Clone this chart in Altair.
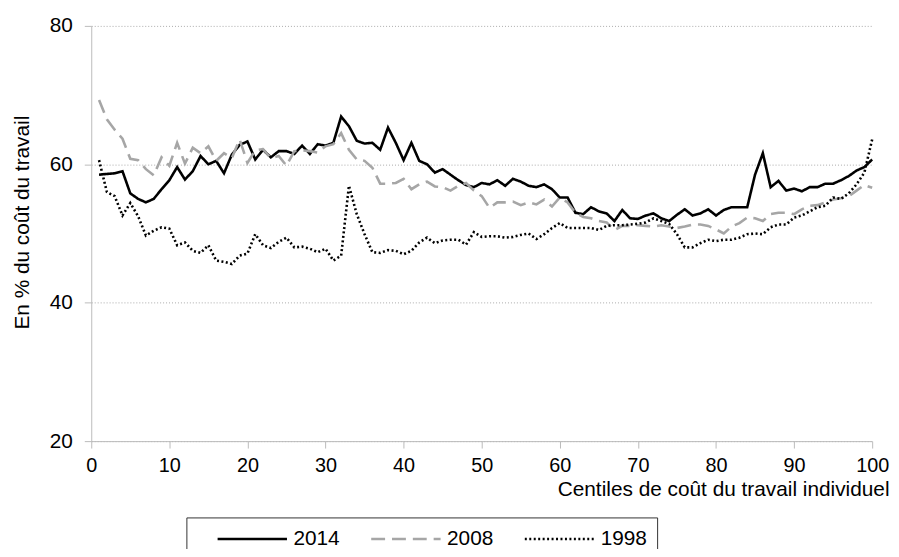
import altair as alt
import pandas as pd

centiles = list(range(1, 101))
years = ["2014", "2008", "1998"]

v2014 = [58.5, 58.6, 58.7, 59.0, 55.8, 55.0, 54.5, 55.0, 56.4, 57.7,
         59.6, 57.8, 59.0, 61.2, 60.0, 60.5, 58.7, 61.4, 62.8, 63.3,
         60.7, 62.1, 61.0, 61.9, 61.9, 61.5, 62.7, 61.5, 62.9, 62.7,
         63.1, 66.9, 65.5, 63.4, 63.0, 63.1, 62.1, 65.3, 63.1, 60.6,
         63.1, 60.5, 60.0, 58.8, 59.3, 58.5, 57.7, 57.0, 56.7, 57.3,
         57.1, 57.7, 56.9, 57.9, 57.5, 56.9, 56.7, 57.1, 56.4, 55.2,
         55.2, 53.0, 52.8, 53.8, 53.2, 52.9, 51.8, 53.4, 52.2, 52.1,
         52.6, 52.9, 52.2, 51.8, 52.7, 53.5, 52.6, 52.9, 53.5, 52.6,
         53.4, 53.8, 53.8, 53.8, 58.5, 61.6, 56.7, 57.6, 56.2, 56.5,
         56.1, 56.7, 56.7, 57.2, 57.2, 57.7, 58.3, 59.1, 59.6, 60.7]

v2008 = [69.3, 66.5, 65.0, 63.7, 60.8, 60.6, 59.3, 58.4, 61.0, 59.8,
         63.1, 60.1, 62.4, 61.6, 62.6, 60.5, 61.6, 60.9, 63.6, 60.2,
         62.0, 62.2, 60.9, 61.2, 59.8, 61.9, 62.0, 61.9, 61.7, 62.6,
         62.9, 64.5, 62.1, 60.7, 60.5, 59.5, 57.2, 57.2, 57.3, 57.9,
         56.4, 57.1, 57.5, 56.8, 56.7, 56.2, 56.9, 57.3, 56.2, 55.4,
         53.7, 54.5, 54.5, 54.6, 54.1, 54.5, 54.2, 54.9, 53.9, 55.2,
         54.5, 53.0, 52.4, 52.2, 51.8, 51.6, 50.5, 51.1, 51.1, 51.2,
         51.1, 51.0, 51.2, 51.0, 50.8, 51.0, 51.3, 51.3, 51.1, 50.6,
         50.0, 51.0, 51.5, 52.3, 52.2, 51.8, 52.8, 53.0, 53.0, 52.8,
         53.5, 54.0, 54.1, 54.5, 54.9, 55.1, 55.4, 56.2, 57.0, 56.6]

v1998 = [60.6, 56.0, 55.4, 52.6, 54.4, 52.5, 49.7, 50.4, 50.9, 50.7,
         48.3, 48.7, 47.5, 47.2, 48.3, 46.1, 45.9, 45.6, 46.8, 47.1,
         49.9, 48.3, 47.9, 48.8, 49.4, 48.0, 48.1, 47.8, 47.3, 47.8,
         46.1, 46.8, 56.9, 52.8, 49.9, 47.3, 47.2, 47.6, 47.5, 47.0,
         47.5, 48.7, 49.4, 48.6, 49.0, 49.1, 49.1, 48.4, 50.2, 49.5,
         49.6, 49.6, 49.4, 49.5, 49.8, 50.0, 49.2, 49.9, 50.8, 51.5,
         50.8, 50.8, 50.8, 50.8, 50.5, 51.1, 51.2, 51.2, 51.3, 51.4,
         51.6, 52.2, 51.8, 51.4, 49.9, 48.0, 48.0, 48.6, 49.1, 48.9,
         49.1, 49.1, 49.4, 49.9, 50.0, 49.9, 50.9, 51.3, 51.3, 52.3,
         52.6, 53.2, 53.8, 54.0, 55.2, 55.0, 55.8, 57.1, 58.8, 63.6]

x_ticks = list(range(0, 101, 10))
y_ticks = [20, 40, 60, 80]

rows = []
for yr, vals in zip(years, [v2014, v2008, v1998]):
    for c, v in zip(centiles, vals):
        rows.append({"centile": c, "value": v, "year": yr})
df = pd.DataFrame(rows)

FONT = "Liberation Sans"

color_scale = alt.Scale(domain=years, range=["#000000", "#a6a6a6", "#000000"])
dash_scale = alt.Scale(domain=years, range=[[1, 0], [14, 7], [2, 2.5]])

leg = alt.Legend(
    title="\u00a0", titleOrient="left", titlePadding=20, titleFontSize=21,
    orient="none", legendX=96, legendY=496, direction="horizontal",
    symbolType="M-1,0H6", symbolSize=400, symbolStrokeWidth=2.6,
    labelFontSize=21, labelFont=FONT, labelColor="black", labelOffset=55,
    columnPadding=26, padding=10, strokeColor="#333333", labelLimit=0,
)

chart = alt.Chart(df).mark_line(strokeWidth=2.6).encode(
    x=alt.X("centile:Q",
            scale=alt.Scale(domain=[0, 100], nice=False, zero=False),
            axis=alt.Axis(values=x_ticks, grid=False, labelFlush=False,
                          title="Centiles de coût du travail individuel",
                          titleAlign="right", titleX=805, titleY=49,
                          titleBaseline="middle", labelPadding=8)),
    y=alt.Y("value:Q",
            scale=alt.Scale(domain=[20, 80], nice=False, zero=False),
            axis=alt.Axis(values=y_ticks, grid=True,
                          title="En % du coût du travail",
                          titleX=-69, titleY=198, titleBaseline="middle",
                          titleAlign="center", labelPadding=12)),
    color=alt.Color("year:N", scale=color_scale, sort=years, legend=leg),
    strokeDash=alt.StrokeDash("year:N", scale=dash_scale, sort=years, legend=leg),
).properties(
    width=788, height=419,
    autosize=alt.AutoSizeParams(type="none"),
    padding={"left": 84, "top": 15.6, "right": 19, "bottom": 106.4},
).configure_view(stroke=None).configure_axis(
    domainColor="#bbbbbb", tickColor="#bbbbbb", tickSize=7,
    labelFont=FONT, labelFontSize=20, labelColor="black",
    titleFont=FONT, titleFontSize=21, titleFontWeight="normal", titleColor="black",
    gridColor="#aaaaaa", gridDash=[1, 2], gridWidth=1,
).configure_axisY(labelFontSize=21)

chart.save("out.html", embed_options={"renderer": "svg", "actions": False})
